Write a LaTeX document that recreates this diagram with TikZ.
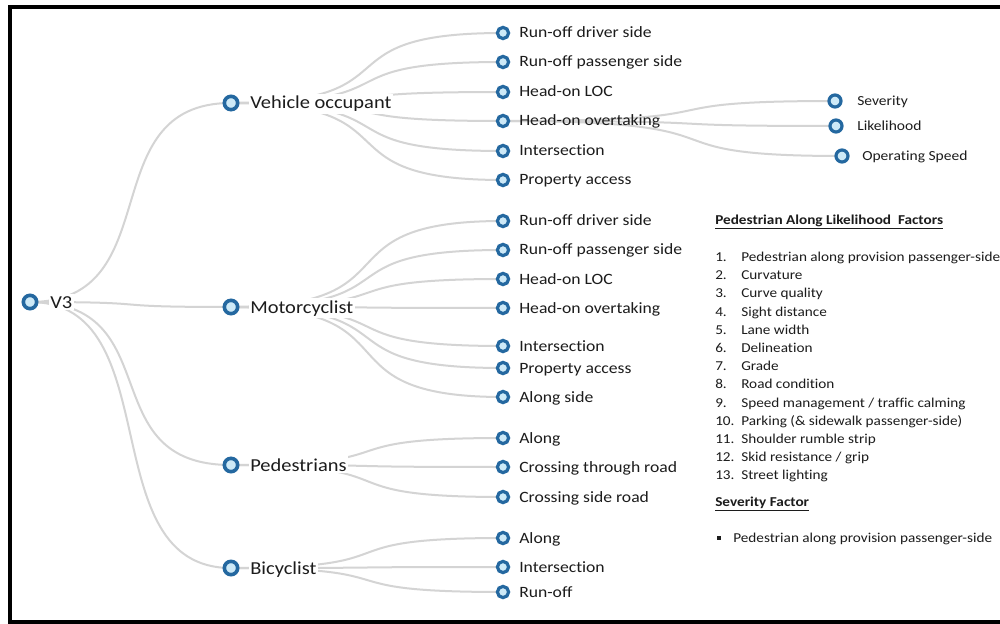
\documentclass[tikz,border=0pt]{standalone}
\usepackage{fontspec}
\setmainfont{Carlito}[FakeStretch=1.12,Ligatures=NoCommon]
\usetikzlibrary{calc,backgrounds}
\definecolor{ringblue}{RGB}{36,104,160}
\definecolor{dotfill}{RGB}{205,233,247}
\definecolor{linegray}{RGB}{212,212,212}
\definecolor{txt}{RGB}{28,28,28}
\newcommand\lnk[4]{%
  \draw[conn] let \p1=(#1.center), \p2=(#2.center) in
    (\p1) .. controls ({\x1+#3*(\x2-\x1)},\y1) and ({\x1+#4*(\x2-\x1)},\y2) .. (\p2);}
\begin{document}
\begin{tikzpicture}[x=0.75pt,y=-0.75pt,
  dotA/.style={circle,draw=ringblue,fill=dotfill,line width=2.7pt,inner sep=0pt,minimum size=10pt},
  dotB/.style={circle,draw=ringblue,fill=dotfill,line width=2.4pt,inner sep=0pt,minimum size=8.4pt},
  dotC/.style={circle,draw=ringblue,fill=dotfill,line width=2.4pt,inner sep=0pt,minimum size=9pt},
  conn/.style={draw=linegray,line width=1.5pt},
  labA/.style={anchor=base west,inner xsep=1pt,inner ysep=1.5pt,fill=white,text=txt,font=\fontsize{13.7}{16}\selectfont},
  labB/.style={anchor=base west,inner sep=0pt,text=txt,font=\fontsize{11.8}{14}\selectfont},
  labC/.style={anchor=base west,inner sep=0pt,text=txt,font=\fontsize{10.4}{12}\selectfont},
  lst/.style={anchor=base west,inner sep=0pt,text=txt,font=\fontsize{10.2}{12}\selectfont},
  lsth/.style={lst,font=\fontsize{10.2}{12}\selectfont\bfseries}]
\useasboundingbox (0,0) rectangle (1000,624);
\draw[line width=3pt] (1003,7) -- (10,7) -- (10,622) -- (1003,622);

% root
\node[dotA] (v3) at (30,302) {};
\node[labA] (v3l) at (48.7,308) {V3};

% level 1
\node[dotA] (vo) at (231,103) {};
\node[labA] (vol) at (248.7,109) {Vehicle occupant};
\node[dotA] (mc) at (231,307) {};
\node[labA] (mcl) at (248.7,313) {Motorcyclist};
\node[dotA] (pe) at (231,465) {};
\node[labA] (pel) at (248.7,471) {Pedestrians};
\node[dotA] (bi) at (231,568) {};
\node[labA] (bil) at (248.7,574) {Bicyclist};

% level 2
\foreach \n/\y/\t in {vo1/33/Run-off driver side, vo2/62/Run-off passenger side,
  vo3/92/Head-on LOC, vo4/121/Head-on overtaking, vo5/151/Intersection,
  vo6/180/Property access,
  mc1/221/Run-off driver side, mc2/250/Run-off passenger side,
  mc3/279/Head-on LOC, mc4/308/Head-on overtaking, mc5/346/Intersection,
  mc6/368/Property access, mc7/397/Along side,
  pe1/438/Along, pe2/467/Crossing through road, pe3/497/Crossing side road,
  bi1/538/Along, bi2/567/Intersection, bi3/592/Run-off}{
  \node[dotB] (\n) at (503,\y) {};
  \node[labB] (\n-l) at (519,\y+5) {\t};
}

% level 3
\node[dotC] (sev) at (835,101) {};
\node[labC] (sevl) at (857,105.5) {Severity};
\node[dotC] (lik) at (836,126) {};
\node[labC] (likl) at (857,130.5) {Likelihood};
\node[dotC] (ops) at (842,156) {};
\node[labC] (opsl) at (862,160.5) {Operating Speed};

% connectors
\begin{pgfonlayer}{background}
\fill[white] (0,0) rectangle (1000,624);
\foreach \c in {vo,mc,pe,bi} {\lnk{v3}{\c}{0.7}{0.3}}
\foreach \c in {vo1,vo2,vo3,vo4,vo5,vo6} {\lnk{vo}{\c}{0.7}{0.3}}
\foreach \c in {mc1,mc2,mc3,mc4,mc5,mc6,mc7} {\lnk{mc}{\c}{0.7}{0.3}}
\foreach \c in {pe1,pe2,pe3} {\lnk{pe}{\c}{0.7}{0.3}}
\foreach \c in {bi1,bi2,bi3} {\lnk{bi}{\c}{0.7}{0.3}}
\foreach \c in {sev,lik,ops} {\lnk{vo4}{\c}{0.78}{0.36}}
\end{pgfonlayer}

% right text block
\node[lsth] (hd1) at (715,224.5) {\underline{Pedestrian Along Likelihood\ \ Factors}};
\node[lst] (n1) at (715,261.5) {1.};  \node[lst] (f1) at (741,261.5) {Pedestrian along provision passenger-side};
\node[lst] (n2) at (715,279.7) {2.};  \node[lst] (f2) at (741,279.7) {Curvature};
\node[lst] (n3) at (715,297.9) {3.};  \node[lst] (f3) at (741,297.9) {Curve quality};
\node[lst] (n4) at (715,316.1) {4.};  \node[lst] (f4) at (741,316.1) {Sight distance};
\node[lst] (n5) at (715,334.3) {5.};  \node[lst] (f5) at (741,334.3) {Lane width};
\node[lst] (n6) at (715,352.5) {6.};  \node[lst] (f6) at (741,352.5) {Delineation};
\node[lst] (n7) at (715,370.7) {7.};  \node[lst] (f7) at (741,370.7) {Grade};
\node[lst] (n8) at (715,388.9) {8.};  \node[lst] (f8) at (741,388.9) {Road condition};
\node[lst] (n9) at (715,407.1) {9.};  \node[lst] (f9) at (741,407.1) {Speed management / traffic calming};
\node[lst] (n10) at (715,425.3) {10.}; \node[lst] (f10) at (741,425.3) {Parking (\& sidewalk passenger-side)};
\node[lst] (n11) at (715,443.5) {11.}; \node[lst] (f11) at (741,443.5) {Shoulder rumble strip};
\node[lst] (n12) at (715,461.7) {12.}; \node[lst] (f12) at (741,461.7) {Skid resistance / grip};
\node[lst] (n13) at (715,479.9) {13.}; \node[lst] (f13) at (741,479.9) {Street lighting};
\node[lsth] (hd2) at (715,506.5) {\underline{Severity Factor}};
\node[fill=txt,inner sep=0pt,minimum size=3pt] (bul) at (719,538) {};
\node[lst] (bt) at (733,542.5) {Pedestrian along provision passenger-side};
\end{tikzpicture}
\end{document}
